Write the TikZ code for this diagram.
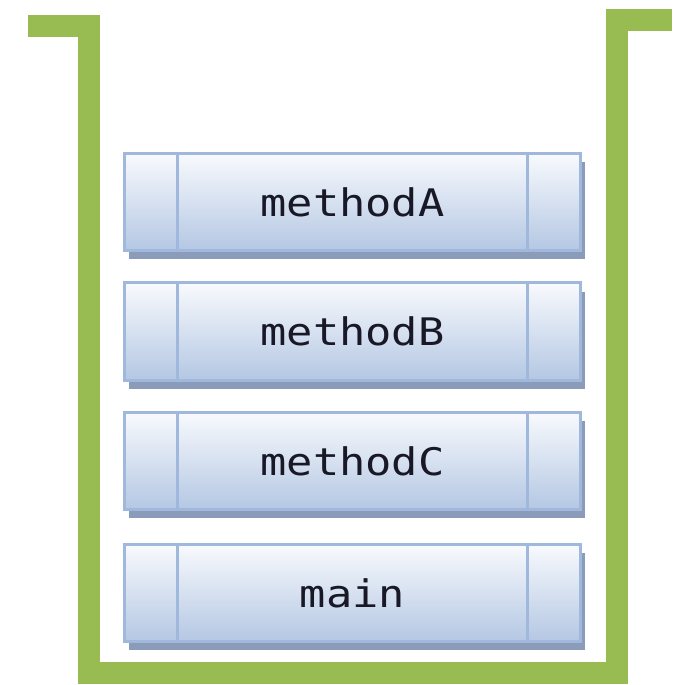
\documentclass[tikz,border=0pt]{standalone}
\usepackage{fontspec}
\newfontfamily\codefont[FakeStretch=1.15]{DejaVu Sans Mono}
\usetikzlibrary{shadows}
\definecolor{stackgreen}{RGB}{152,187,82}
\definecolor{frameblue}{RGB}{160,184,220}
\definecolor{topblue}{RGB}{248,250,253}
\definecolor{botblue}{RGB}{180,199,227}
\definecolor{shadeblue}{RGB}{138,156,186}
\definecolor{textdark}{RGB}{24,24,38}

\begin{document}
\begin{tikzpicture}[x=0.025cm, y=-0.025cm]
\useasboundingbox (0,0) rectangle (684,685);
% the stack container
\draw[stackgreen, line width=0.55cm] (28,25.5) -- (89,25.5) -- (89,673) -- (617,673) -- (617,20) -- (672,20);
\tikzstyle{every node} = [rectangle, draw=frameblue, line width=2.2pt, top color=topblue, bottom color=botblue,
  minimum width=11.4cm, minimum height=2.43cm, inner sep=0cm, text=textdark,
  font=\codefont\fontsize{27}{30}\selectfont,
  general shadow={fill=shadeblue, shadow xshift=0.12cm, shadow yshift=-0.22cm}]
\node (methodA) at (352.5,202) {methodA};
\node (methodB) at (352.5,331.5) {methodB};
\node (methodC) at (352.5,461) {methodC};
\node (main) at (352.5,593) {main};
% side compartments
\foreach \frame in {methodA,methodB,methodC,main}{
  \draw[frameblue, line width=2.2pt] ([xshift=1.375cm]\frame.north west) -- ([xshift=1.375cm]\frame.south west);
  \draw[frameblue, line width=2.2pt] ([xshift=-1.375cm]\frame.north east) -- ([xshift=-1.375cm]\frame.south east);
}
\end{tikzpicture}
\end{document}
